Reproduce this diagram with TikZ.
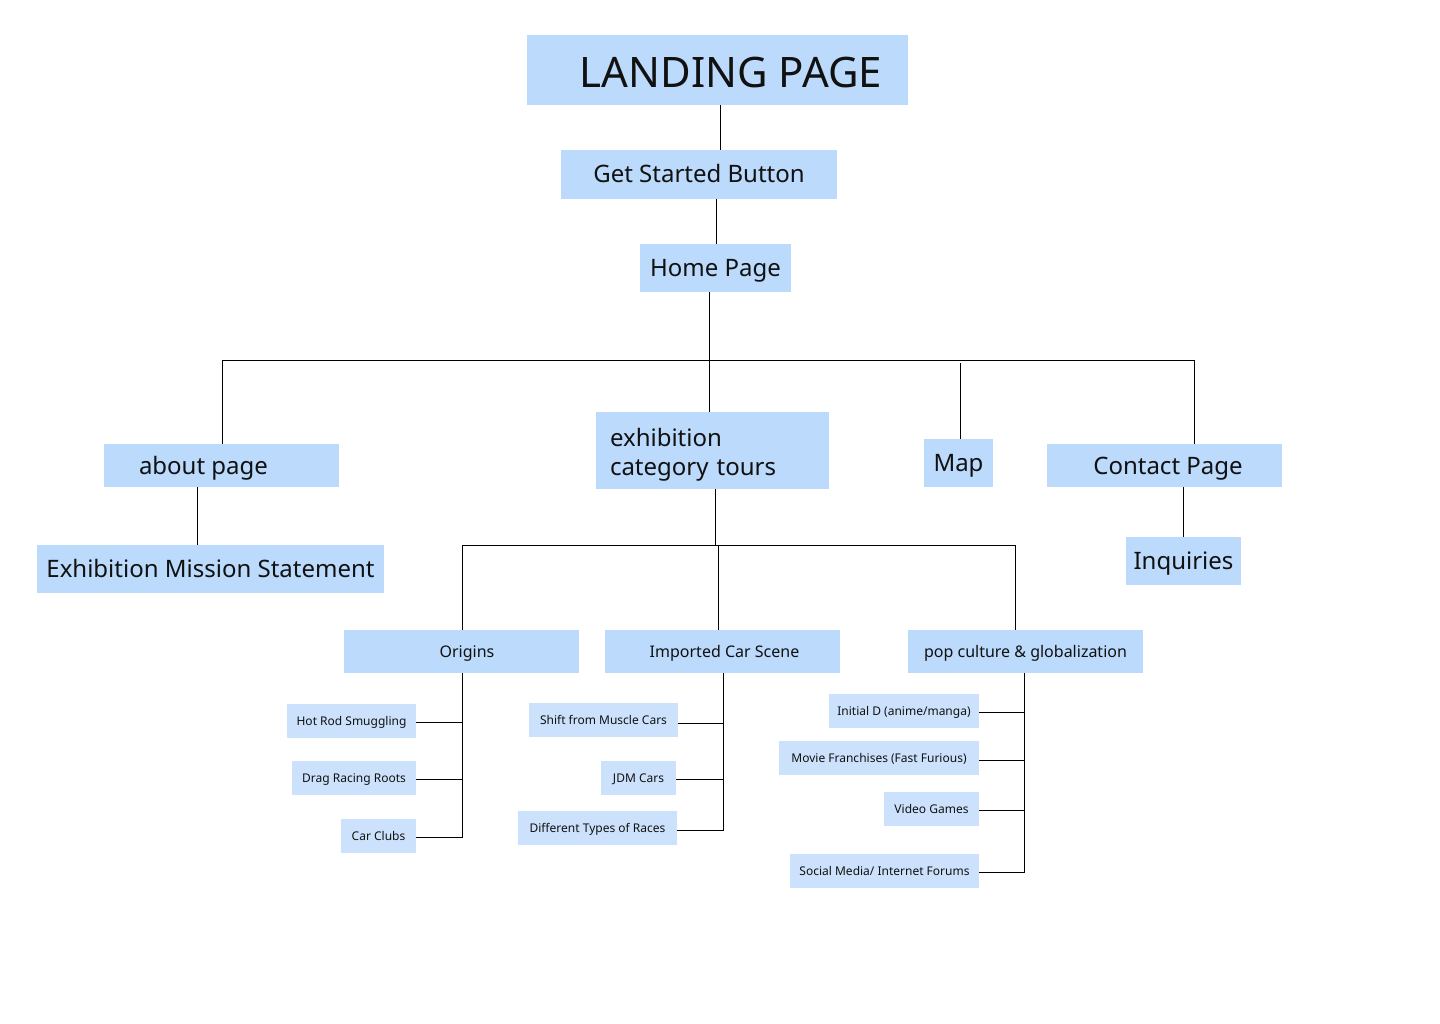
\documentclass[tikz,border=0pt]{standalone}
\usepackage{fontspec}
\setmainfont{Noto Sans}
\definecolor{boxA}{RGB}{187,218,252}
\definecolor{boxB}{RGB}{204,226,252}
\definecolor{ink}{RGB}{17,17,17}
\begin{document}
\begin{tikzpicture}[x=1pt,y=-1pt,
  big/.style={fill=boxA,inner sep=0pt,text=ink,font=\fontsize{24}{29}\selectfont,text height=17pt,text depth=0pt},
  mid/.style={fill=boxA,inner sep=0pt,text=ink,font=\fontsize{16}{19}\selectfont,text height=11.4pt,text depth=0pt,minimum width=235pt,minimum height=43pt},
  leaf/.style={fill=boxB,inner sep=0pt,text=ink,font=\fontsize{12}{14}\selectfont,text height=8.6pt,text depth=0pt,minimum height=34pt},
  wire/.style={draw=black,line width=1pt}]
\useasboundingbox (0,0) rectangle (1440,1024);
\fill[white] (0,0) rectangle (1440,1024);
% level 0-2
\node[big,minimum width=381pt,minimum height=70pt,font=\fontsize{42}{48}\selectfont,text height=35pt] (landing) at (717.5,70) {\hspace*{27pt}LANDING PAGE};
\node[big,minimum width=276pt,minimum height=49pt] (gs) at (699,174.5) {Get Started Button};
\node[big,minimum width=151pt,minimum height=48pt] (home) at (715.5,268) {Home Page};
% level 3
\node[big,minimum width=235pt,minimum height=43pt] (about) at (221.5,465.5) {about page\hspace*{36pt}};
\node[big,minimum width=347pt,minimum height=48pt] (mission) at (210.5,569) {Exhibition Mission Statement};
\node[big,minimum width=233pt,minimum height=77pt,text width=205pt,align=left,text depth=26pt] (expo) at (712.5,450.5) {exhibition\\category tours};
\node[big,minimum width=69pt,minimum height=48pt] (map) at (958.5,463) {Map};
\node[big,minimum width=235pt,minimum height=43pt] (contact) at (1164.5,465.5) {\hspace*{7pt}Contact Page};
\node[big,minimum width=115pt,minimum height=48pt] (inq) at (1183.5,561) {Inquiries};
% level 4
\node[mid] (orig) at (461.5,651.5) {\hspace*{11pt}Origins};
\node[mid] (imp) at (722.5,651.5) {\hspace*{4pt}Imported Car Scene};
\node[mid] (pop) at (1025.5,651.5) {pop culture \& globalization};
% leaves
\node[leaf,minimum width=129pt] (hot) at (351.5,721) {Hot Rod Smuggling};
\node[leaf,minimum width=124pt] (drag) at (354,778) {Drag Racing Roots};
\node[leaf,minimum width=75pt] (clubs) at (378.5,836) {Car Clubs};
\node[leaf,minimum width=149pt] (shift) at (603.5,720) {Shift from Muscle Cars};
\node[leaf,minimum width=75pt] (jdm) at (638.5,778) {JDM Cars};
\node[leaf,minimum width=159pt] (races) at (597.5,828) {Different Types of Races};
\node[leaf,minimum width=150pt] (initd) at (904,711) {Initial D (anime/manga)};
\node[leaf,minimum width=200pt] (movie) at (879,758) {Movie Franchises (Fast Furious)};
\node[leaf,minimum width=95pt] (video) at (931.5,809) {Video Games};
\node[leaf,minimum width=189pt] (social) at (884.5,871) {Social Media/ Internet Forums};
% connectors
\draw[wire] (720,0 |- landing.south) -- (720,0 |- gs.north);
\draw[wire] (716,0 |- gs.south) -- (716,0 |- home.north);
\coordinate (hub) at (709,360);
\draw[wire] (709,0 |- home.south) -- (709,0 |- expo.north);
\draw[wire] (222,0 |- about.north) -- (222,360) -- (1194,360) -- (1194,0 |- contact.north);
\coordinate (maptop) at (960,363);
\draw[wire] (maptop) -- (960,0 |- map.north);
\draw[wire] (197,0 |- about.south) -- (197,0 |- mission.north);
\draw[wire] (1183,0 |- contact.south) -- (1183,0 |- inq.north);
\coordinate (ehub) at (715,545);
\draw[wire] (715,0 |- expo.south) -- (ehub);
\draw[wire] (462,0 |- orig.north) -- (462,545) -- (1015,545) -- (1015,0 |- pop.north);
\draw[wire] (718,545) -- (718,0 |- imp.north);
% origins
\draw[wire] (462,0 |- orig.south) -- (462,837) -- (clubs.east |- 0,837);
\draw[wire] (hot.east |- 0,722) -- (462,722);
\draw[wire] (drag.east |- 0,779) -- (462,779);
% imported
\draw[wire] (723,0 |- imp.south) -- (723,830) -- (races.east |- 0,830);
\draw[wire] (shift.east |- 0,723) -- (723,723);
\draw[wire] (jdm.east |- 0,779) -- (723,779);
% pop
\draw[wire] (1024,0 |- pop.south) -- (1024,872) -- (social.east |- 0,872);
\draw[wire] (initd.east |- 0,712) -- (1024,712);
\draw[wire] (movie.east |- 0,760) -- (1024,760);
\draw[wire] (video.east |- 0,810) -- (1024,810);
\end{tikzpicture}
\end{document}
